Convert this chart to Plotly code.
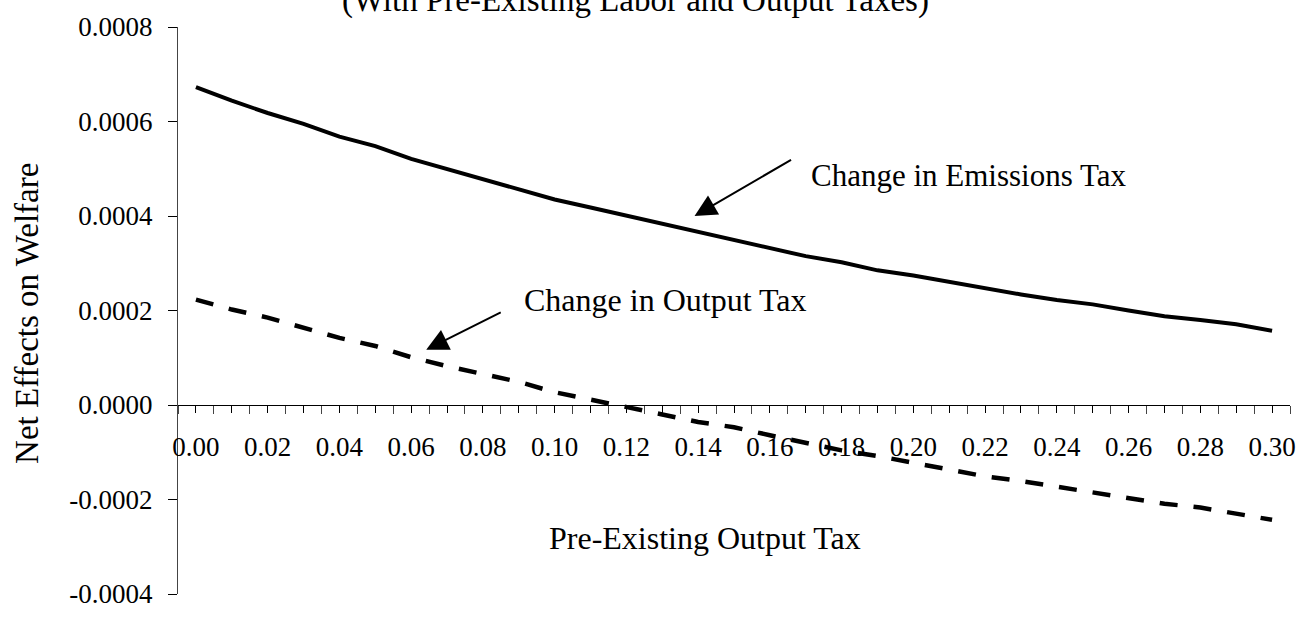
import plotly.graph_objects as go

# ---- data ----
output_tax = [0.00, 0.01, 0.02, 0.03, 0.04, 0.05, 0.06, 0.07, 0.08, 0.09, 0.10,
              0.11, 0.12, 0.13, 0.14, 0.15, 0.16, 0.17, 0.18, 0.19, 0.20,
              0.21, 0.22, 0.23, 0.24, 0.25, 0.26, 0.27, 0.28, 0.29, 0.30]

emissions_change = [0.000673, 0.000644, 0.000618, 0.000595, 0.000568, 0.000548,
                    0.000521, 0.000500, 0.000478, 0.000458, 0.000435, 0.000418,
                    0.000401, 0.000384, 0.000365, 0.000348, 0.000333, 0.000315,
                    0.000302, 0.000285, 0.000274, 0.000260, 0.000248, 0.000234,
                    0.000222, 0.000213, 0.000200, 0.000188, 0.000180, 0.000171,
                    0.000157]

output_change = [0.000223, 0.000202, 0.000185, 0.000164, 0.000142, 0.000125,
                 0.000101, 0.000082, 0.000066, 0.000049, 0.000027, 0.000012,
                 -0.000003, -0.000020, -0.000036, -0.000047, -0.000064, -0.000081,
                 -0.000096, -0.000108, -0.000122, -0.000135, -0.000151, -0.000161,
                 -0.000173, -0.000185, -0.000197, -0.000209, -0.000217, -0.000231,
                 -0.000243]

x_tick_labels = ["0.00", "", "0.02", "", "0.04", "", "0.06", "", "0.08", "", "0.10",
                 "", "0.12", "", "0.14", "", "0.16", "", "0.18", "", "0.20",
                 "", "0.22", "", "0.24", "", "0.26", "", "0.28", "", "0.30"]

y_tick_vals = [-0.0004, -0.0002, 0.0, 0.0002, 0.0004, 0.0006, 0.0008]
y_tick_labels = ["-0.0004", "-0.0002", "0.0000", "0.0002", "0.0004", "0.0006", "0.0008"]

title_text = "(With Pre-Existing Labor and Output Taxes)"
x_title = "Pre-Existing Output Tax"
y_title = "Net Effects on Welfare"
label_emissions = "Change in Emissions Tax"
label_output = "Change in Output Tax"

# ---- derived axis helpers ----
half = 0.005
x_range = [output_tax[0] - half, output_tax[-1] + half]
boundaries = [round(v - half, 4) for v in output_tax] + [round(output_tax[-1] + half, 4)]
y_range = [y_tick_vals[0], y_tick_vals[-1]]
zero_pos = (0 - y_range[0]) / (y_range[1] - y_range[0])

FONT = "Liberation Serif, Times New Roman, serif"

fig = go.Figure()
fig.add_trace(go.Scatter(x=output_tax, y=emissions_change, mode="lines",
                         line=dict(color="black", width=4), name=label_emissions,
                         showlegend=False))
fig.add_trace(go.Scatter(x=output_tax, y=output_change, mode="lines",
                         line=dict(color="black", width=4.5, dash="18px,16px"),
                         name=label_output, showlegend=False))

fig.update_layout(
    width=1308, height=621,
    margin=dict(l=178, r=14, t=18, b=18),
    paper_bgcolor="white", plot_bgcolor="white",
    font=dict(family=FONT, color="black"),
    xaxis=dict(range=x_range, tickmode="array", tickvals=output_tax, ticktext=x_tick_labels,
               ticks="outside", ticklen=7, tickwidth=1.3, tickcolor="black",
               showline=True, linecolor="black", linewidth=1.3,
               anchor="free", position=zero_pos,
               showgrid=False, zeroline=False,
               tickfont=dict(size=27, family=FONT), ticklabelstandoff=10,
               minor=dict(tickmode="array", tickvals=boundaries, ticks="outside",
                          ticklen=8, tickwidth=1.3, tickcolor="#444", showgrid=False)),
    xaxis2=dict(range=x_range, overlaying="x", anchor="free", position=zero_pos,
                tickmode="array", tickvals=output_tax, ticks="inside", ticklen=7,
                tickwidth=1.3, tickcolor="black", showticklabels=False,
                showline=False, showgrid=False, zeroline=False),
    yaxis=dict(range=y_range, tickmode="array", tickvals=y_tick_vals, ticktext=y_tick_labels,
               ticks="outside", ticklen=9, tickwidth=1.3, tickcolor="black",
               showline=True, linecolor="#444", linewidth=1.3,
               showgrid=False, zeroline=False,
               tickfont=dict(size=27, family=FONT), ticklabelstandoff=10),
    annotations=[
        dict(text=title_text, xref="paper", yref="paper", x=0.411, y=1.047,
             xanchor="center", yanchor="middle", showarrow=False,
             font=dict(size=33, family=FONT)),
        dict(text=y_title, xref="paper", yref="paper", x=-0.1353, y=0.495,
             xanchor="center", yanchor="middle", textangle=-90, showarrow=False,
             font=dict(size=33, family=FONT)),
        dict(text=x_title, xref="paper", yref="paper", x=0.474, y=0.099,
             xanchor="center", yanchor="middle", showarrow=False,
             font=dict(size=32, family=FONT)),
        dict(text=label_emissions, xref="x", yref="y", x=0.1708, y=0.000485,
             xanchor="left", yanchor="middle", showarrow=False,
             font=dict(size=31, family=FONT)),
        dict(text=label_output, xref="x", yref="y", x=0.0908, y=0.000222,
             xanchor="left", yanchor="middle", showarrow=False,
             font=dict(size=32, family=FONT)),
        dict(text="", xref="x", yref="y", x=0.139, y=0.0004, ax=98, ay=-57,
             showarrow=True, arrowhead=2, arrowsize=2.2, arrowwidth=2, arrowcolor="black"),
        dict(text="", xref="x", yref="y", x=0.0642, y=0.000117, ax=76, ay=-38,
             showarrow=True, arrowhead=2, arrowsize=2.2, arrowwidth=2, arrowcolor="black"),
    ],
)

fig.write_html("out.html", config={"displayModeBar": False},
               post_script="document.body.style.margin='0';")
